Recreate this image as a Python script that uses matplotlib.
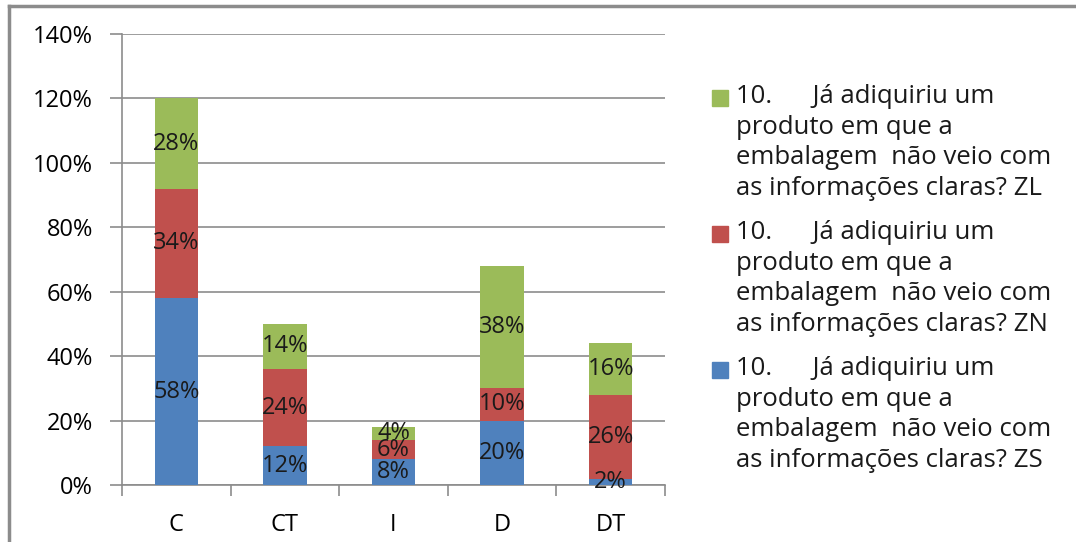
import matplotlib.pyplot as plt
from matplotlib.lines import Line2D
from matplotlib.patches import Rectangle
import numpy as np

plt.rcParams['font.family'] = ['Open Sans', 'DejaVu Sans']

categories = ["C", "CT", "I", "D", "DT"]
zs = [58, 12, 8, 20, 2]
zn = [34, 24, 6, 10, 26]
zl = [28, 14, 4, 38, 16]

question = "10.      Já adiquiriu um\nproduto em que a\nembalagem  não veio com\nas informações claras? "
series = [("ZS", zs, "#4f81bd"), ("ZN", zn, "#c0504d"), ("ZL", zl, "#9bbb59")]

W, H = 1076, 542
fig = plt.figure(figsize=(W / 100, H / 100), dpi=100)
ax = fig.add_axes([122 / W, 1 - 485 / H, 543 / W, 451 / H])

x = np.arange(len(categories))
bottom = np.zeros(len(categories))
for name, vals, color in series:
    vals = np.array(vals, dtype=float)
    ax.bar(x, vals, 0.4, bottom=bottom, color=color, zorder=3)
    for xi, b, v in zip(x, bottom, vals):
        ax.text(xi, b + v / 2, f"{int(v)}%", ha="center", va="center",
                fontsize=17, color="#1a1a1a", zorder=4)
    bottom += vals

ax.set_xlim(-0.5, len(categories) - 0.5)
ax.set_ylim(0, 140)
ax.set_yticks(range(0, 141, 20))
ax.set_yticklabels([f"{v}%" for v in range(0, 141, 20)], fontsize=17)
ax.yaxis.grid(True, color="#8c8c8c", linewidth=1.2, zorder=0)
ax.set_xticks(x)
ax.set_xticklabels(categories, fontsize=17)
ax.set_xticks(np.arange(-0.5, len(categories)), minor=True)
ax.tick_params(axis="x", which="major", length=0, pad=20)
ax.tick_params(axis="x", which="minor", length=8, color="#8c8c8c", width=1.2)
ax.tick_params(axis="y", length=9, color="#8c8c8c", width=1.2, pad=12)
for side in ("top", "right"):
    ax.spines[side].set_visible(False)
for side in ("left", "bottom"):
    ax.spines[side].set_color("#8c8c8c")
    ax.spines[side].set_linewidth(1.2)

# legend drawn by hand so each swatch sits on the first text line
for i, (name, vals, color) in enumerate(series[::-1]):
    top = 84 + i * 136
    fig.add_artist(Rectangle((712 / W, 1 - (top + 22) / H), 16 / W, 16 / H,
                             color=color, transform=fig.transFigure))
    fig.text(736 / W, 1 - top / H, question + name, ha="left", va="top",
             fontsize=18.5, color="#1a1a1a", linespacing=1.3)

# outer chart frame (top and left edges)
fig.add_artist(Line2D([9 / W, 1], [1 - 6 / H, 1 - 6 / H], color="#8c8c8c",
                      linewidth=2.5, transform=fig.transFigure))
fig.add_artist(Line2D([9 / W, 9 / W], [0, 1 - 6 / H], color="#8c8c8c",
                      linewidth=2.5, transform=fig.transFigure))

fig.savefig("out.png", dpi=100)
